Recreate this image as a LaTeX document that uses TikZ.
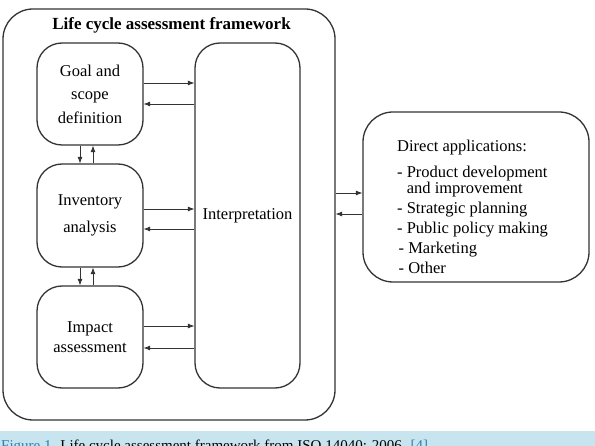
\documentclass[tikz,border=0pt]{standalone}
\usepackage{fontspec}
\setmainfont{Liberation Serif}
\usetikzlibrary{arrows.meta}
\definecolor{framegray}{gray}{0.2}
\definecolor{capband}{RGB}{200,229,239}
\definecolor{figblue}{RGB}{40,130,180}
\begin{document}
\begin{tikzpicture}[x=1pt,y=-1pt,
  frame/.style={draw=framegray, line width=1.3pt, rounded corners=30pt, inner sep=0pt},
  stagebox/.style={draw=framegray, line width=1.3pt, rounded corners=25pt,
    minimum width=106pt, inner sep=0pt, align=center},
  flow/.style={draw=framegray, line width=0.7pt, -{Latex[length=6.5pt,width=5pt]}},
  body/.style={font=\fontsize{16.5}{20}\selectfont},
]
\useasboundingbox (0,0) rectangle (595,446);
\fill[white] (0,0) rectangle (595,446);

% outer framework and its title
\node[frame, minimum width=332pt, minimum height=411pt] (lca) at (169,214.5) {};
\node[font=\bfseries\fontsize{17}{20}\selectfont] (title) at (171.5,25) {Life cycle assessment framework};

% the three phases on the left
\node[stagebox, minimum height=102pt, font=\fontsize{16.5}{23.5}\selectfont] (goal) at (90,94)
  {Goal and\\scope\\definition};
\node[stagebox, minimum height=103pt, font=\fontsize{16.5}{27}\selectfont] (inv) at (90,215.5)
  {Inventory\\analysis};
\node[stagebox, minimum height=102pt, font=\fontsize{16.5}{20}\selectfont] (imp) at (90,337)
  {Impact\\assessment};

% interpretation column
\node[stagebox, minimum width=105pt, minimum height=345pt, body] (interp) at (247.5,215.5)
  {Interpretation};

% direct applications
\node[frame, minimum width=226pt, minimum height=170pt] (apps) at (476,197) {};
\node[body, align=left, anchor=north west, inner sep=0pt] (appstext) at (397,140)
  {Direct applications:\\[5.5pt]
   - Product development\\[-3.5pt]
   \phantom{- }and improvement\\
   - Strategic planning\\
   - Public policy making\\
   \hspace{1.5pt}- Marketing\\
   \hspace{1.5pt}- Other};

% links between phases
\draw[flow] (goal.south -| 80,0) -- (inv.north -| 80,0);
\draw[flow] (inv.north -| 93,0) -- (goal.south -| 93,0);
\draw[flow] (inv.south -| 80,0) -- (imp.north -| 80,0);
\draw[flow] (imp.north -| 93,0) -- (inv.south -| 93,0);

\draw[flow] (goal.east |- 0,83) -- (interp.west |- 0,83);
\draw[flow] (interp.west |- 0,104) -- (goal.east |- 0,104);
\draw[flow] (inv.east |- 0,209) -- (interp.west |- 0,209);
\draw[flow] (interp.west |- 0,229) -- (inv.east |- 0,229);
\draw[flow] (imp.east |- 0,326) -- (interp.west |- 0,326);
\draw[flow] (interp.west |- 0,348) -- (imp.east |- 0,348);

\draw[flow] (lca.east |- 0,193) -- (apps.west |- 0,193);
\draw[flow] (apps.west |- 0,214) -- (lca.east |- 0,214);

% caption band, running off the lower edge
\fill[capband] (0,431) rectangle (595,446);
\node[anchor=base west, inner sep=0pt, font=\fontsize{15}{17}\selectfont] (caption) at (1,451)
  {\textcolor{figblue}{Figure 1.} Life cycle assessment framework from ISO 14040: 2006. \textcolor{figblue}{[4]}};
\end{tikzpicture}
\end{document}
